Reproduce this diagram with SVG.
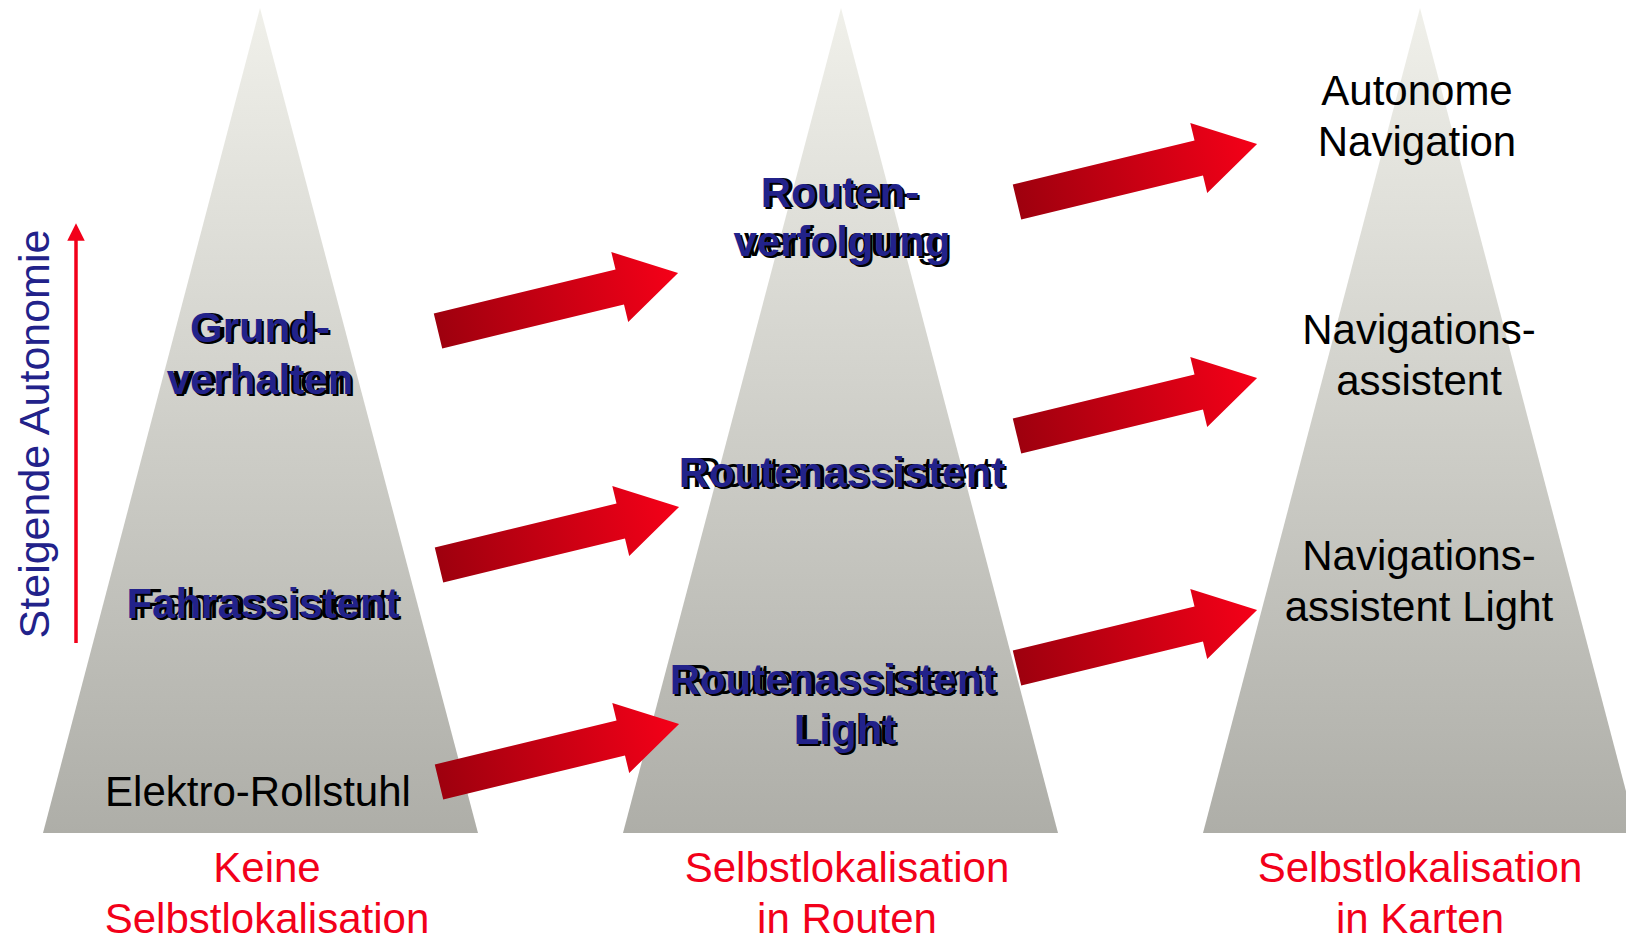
<svg xmlns="http://www.w3.org/2000/svg" width="1626" height="938" viewBox="0 0 1626 938">
<style>
text{font-family:"Liberation Sans",Arial,sans-serif;font-size:42px;text-anchor:middle}
.blk{fill:#000}
.red{fill:#f2001a}
.reg{fill:#000}
.bsh{fill:#000;font-weight:bold;font-size:42px}
.bb{fill:#22228a;font-weight:bold;font-size:42px}
.side{fill:#22228a;font-size:43px}
.tri{fill:url(#triGrad)}
.arr{fill:url(#arrGrad)}
</style>
<defs>
<linearGradient id="triGrad" gradientUnits="userSpaceOnUse" x1="0" y1="8" x2="0" y2="833">
<stop offset="0" stop-color="#f0f0ea"/>
<stop offset="1" stop-color="#aeaea8"/>
</linearGradient>
<linearGradient id="arrGrad" x1="0" y1="0" x2="1" y2="0">
<stop offset="0" stop-color="#9e000e"/>
<stop offset="1" stop-color="#f50018"/>
</linearGradient>
<path id="arrowShape" d="M0,-18 L187,-18 L187,-36 L247,0 L187,36 L187,18 L0,18 Z"/>
<marker id="upHead" viewBox="0 0 10 10" refX="5" refY="5" markerWidth="5" markerHeight="5" orient="auto">
<path d="M0,0 L10,5 L0,10 Z" fill="#f2001a"/>
</marker>
</defs>
<rect width="1626" height="938" fill="#fff"/>

<g id="pyramid-left">
<polygon class="tri" points="260,8 478,833 43,833"/>
<text class="reg" x="260" y="342">Grund-</text>
<text class="bsh" x="262" y="344">Grund-</text>
<text class="bb" x="260" y="342">Grund-</text>
<text class="reg" x="260" y="394">verhalten</text>
<text class="bsh" x="262" y="396">verhalten</text>
<text class="bb" x="260" y="394">verhalten</text>
<text class="reg" x="263" y="618">Fahrassistent</text>
<text class="bsh" x="265" y="620">Fahrassistent</text>
<text class="bb" x="263" y="618">Fahrassistent</text>
<text class="blk" x="258" y="806">Elektro-Rollstuhl</text>
<text class="red" x="267" y="882">Keine</text>
<text class="red" x="267" y="933">Selbstlokalisation</text>
</g>

<g id="pyramid-middle">
<polygon class="tri" points="841,8 1058,833 623,833"/>
<text class="reg" x="840" y="207">Routen-</text>
<text class="bsh" x="842" y="209">Routen-</text>
<text class="bb" x="840" y="207">Routen-</text>
<text class="reg" x="842" y="256">verfolgung</text>
<text class="bsh" x="844" y="258">verfolgung</text>
<text class="bb" x="842" y="256">verfolgung</text>
<text class="reg" x="842" y="487">Routenassistent</text>
<text class="bsh" x="844" y="489">Routenassistent</text>
<text class="bb" x="842" y="487">Routenassistent</text>
<text class="reg" x="833" y="694">Routenassistent</text>
<text class="bsh" x="835" y="696">Routenassistent</text>
<text class="bb" x="833" y="694">Routenassistent</text>
<text class="reg" x="845" y="744">Light</text>
<text class="bsh" x="847" y="746">Light</text>
<text class="bb" x="845" y="744">Light</text>
<text class="red" x="847" y="882">Selbstlokalisation</text>
<text class="red" x="847" y="933">in Routen</text>
</g>

<g id="pyramid-right">
<polygon class="tri" points="1420,8 1637,833 1203,833"/>
<text class="blk" x="1417" y="105">Autonome</text>
<text class="blk" x="1417" y="156">Navigation</text>
<text class="blk" x="1419" y="344">Navigations-</text>
<text class="blk" x="1419" y="395">assistent</text>
<text class="blk" x="1419" y="570">Navigations-</text>
<text class="blk" x="1419" y="621">assistent Light</text>
<text class="red" x="1420" y="882">Selbstlokalisation</text>
<text class="red" x="1420" y="933">in Karten</text>
</g>

<g id="axis">
<line x1="76" y1="643" x2="76" y2="232" stroke="#f2001a" stroke-width="3.5" marker-end="url(#upHead)"/>
<text class="side" transform="translate(49,434) rotate(-90)" x="0" y="0">Steigende Autonomie</text>
</g>

<g id="connectors">
<use href="#arrowShape" class="arr" transform="translate(438,331) rotate(-13.6)"/>
<use href="#arrowShape" class="arr" transform="translate(439,565) rotate(-13.6)"/>
<use href="#arrowShape" class="arr" transform="translate(439,782) rotate(-13.6)"/>
<use href="#arrowShape" class="arr" transform="translate(1017,202) rotate(-13.6)"/>
<use href="#arrowShape" class="arr" transform="translate(1017,436) rotate(-13.6)"/>
<use href="#arrowShape" class="arr" transform="translate(1017,668) rotate(-13.6)"/>
</g>
</svg>
